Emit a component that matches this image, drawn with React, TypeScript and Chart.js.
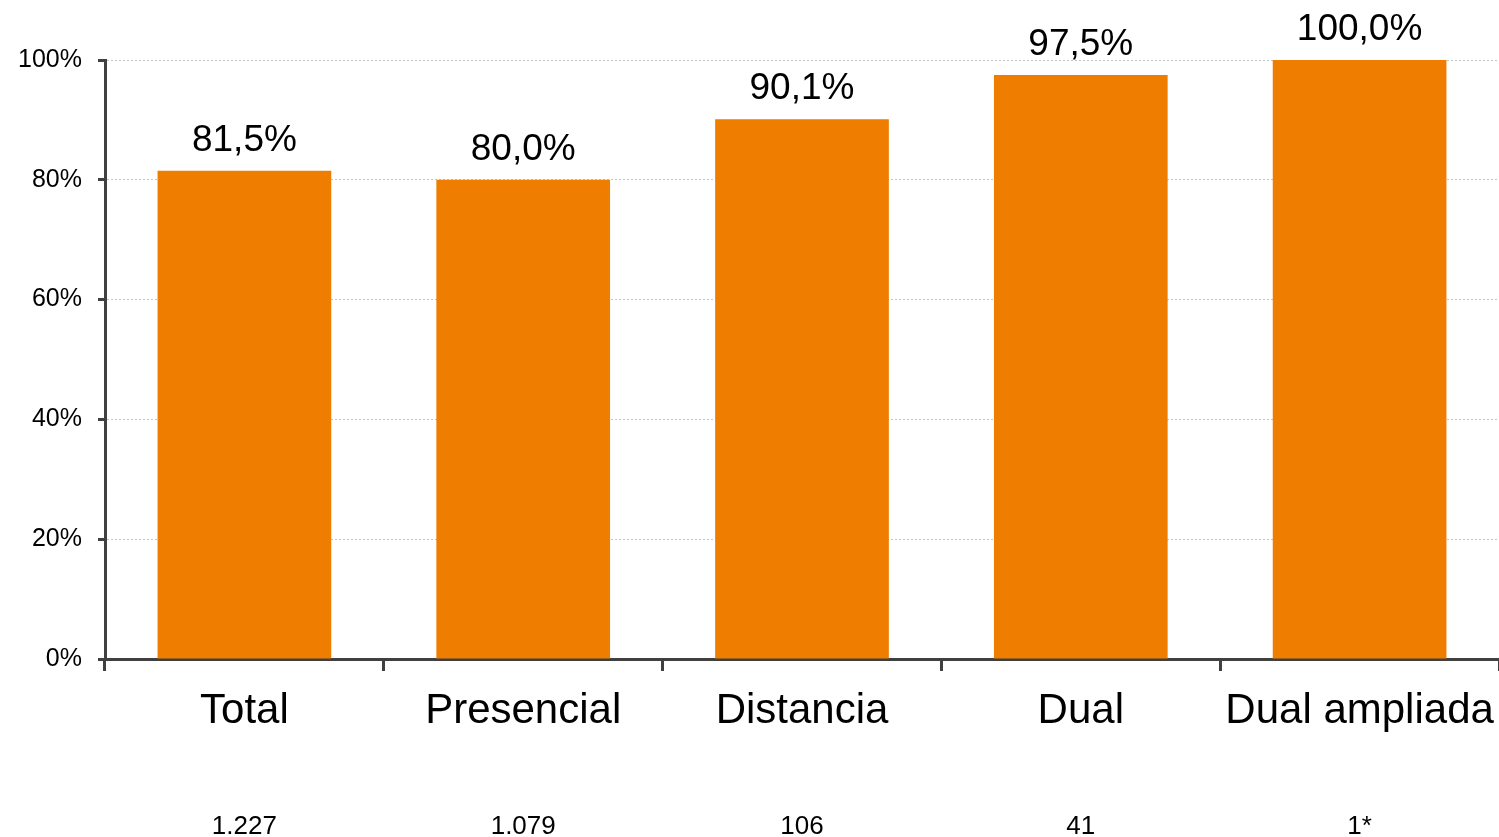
import React, { useEffect, useRef } from "react";
import { Chart, registerables } from "chart.js";

Chart.register(...registerables);

const categories = ["Total", "Presencial", "Distancia", "Dual", "Dual ampliada"];
const values = [81.5, 80.0, 90.1, 97.5, 100.0];
const valueLabels = ["81,5%", "80,0%", "90,1%", "97,5%", "100,0%"];
const counts = ["1.227", "1.079", "106", "41", "1*"];
const yTicks = [0, 20, 40, 60, 80, 100];

const FONT = "'Liberation Sans', Arial, sans-serif";

const labelsPlugin = {
  id: "customLabels",
  afterDatasetsDraw(chart: any) {
    const ctx = chart.ctx;
    const meta = chart.getDatasetMeta(0);
    const xScale = chart.scales.x;
    ctx.save();
    ctx.fillStyle = "#000000";
    ctx.textAlign = "center";
    ctx.textBaseline = "alphabetic";
    ctx.font = `37px ${FONT}`;
    meta.data.forEach((bar: any, i: number) => {
      ctx.fillText(valueLabels[i], bar.x, bar.y - 20);
    });
    ctx.font = `26px ${FONT}`;
    ctx.textBaseline = "middle";
    counts.forEach((c, i) => {
      ctx.fillText(c, xScale.getPixelForValue(i), 827);
    });
    ctx.restore();
  },
};

export default function App() {
  const ref = useRef<HTMLCanvasElement | null>(null);
  useEffect(() => {
    if (!ref.current) return;
    const chart = new Chart(ref.current, {
      type: "bar",
      data: {
        labels: categories,
        datasets: [
          {
            data: values,
            backgroundColor: "#EE7D00",
            borderWidth: 0,
            categoryPercentage: 1,
            barPercentage: 0.623,
          },
        ],
      },
      options: {
        animation: false,
        responsive: false,
        maintainAspectRatio: false,
        layout: { padding: { top: 60, right: -3, left: 0, bottom: 0 } },
        plugins: { legend: { display: false }, tooltip: { enabled: false } },
        scales: {
          x: {
            offset: true,
            grid: {
              offset: true,
              drawOnChartArea: false,
              drawTicks: true,
              tickLength: 12,
              tickColor: "#404040",
              tickWidth: 3,
            },
            border: { color: "#404040", width: 3 },
            ticks: {
              color: "#000000",
              font: { family: FONT, size: 42 },
              padding: 15,
              maxRotation: 0,
              autoSkip: false,
            },
            afterFit(scale: any) {
              scale.height = 178;
              scale.paddingLeft = 0;
              scale.paddingRight = 0;
            },
          },
          y: {
            min: 0,
            max: 100,
            afterBuildTicks(scale: any) {
              scale.ticks = yTicks.map((v) => ({ value: v }));
            },
            grid: {
              color: "#c4c4c4",
              lineWidth: 1,
              tickBorderDash: [],
              tickColor: "#404040",
              tickWidth: 3,
              tickLength: 7,
              drawTicks: true,
            },
            border: { color: "#404040", width: 3, dash: [2, 2] },
            ticks: {
              color: "#000000",
              font: { family: FONT, size: 25 },
              padding: 16,
              callback: (v: any) => `${v}%`,
            },
            afterFit(scale: any) {
              scale.width = 105;
              scale.paddingTop = 0;
              scale.paddingBottom = 0;
            },
          },
        },
      },
      plugins: [labelsPlugin],
    });
    return () => chart.destroy();
  }, []);
  return (
    <div style={{ position: "fixed", left: 0, top: 0, width: 1499, height: 837, background: "#fff", overflow: "hidden" }}>
      <canvas ref={ref} width={1499} height={837} style={{ width: 1499, height: 837, display: "block" }} />
    </div>
  );
}
